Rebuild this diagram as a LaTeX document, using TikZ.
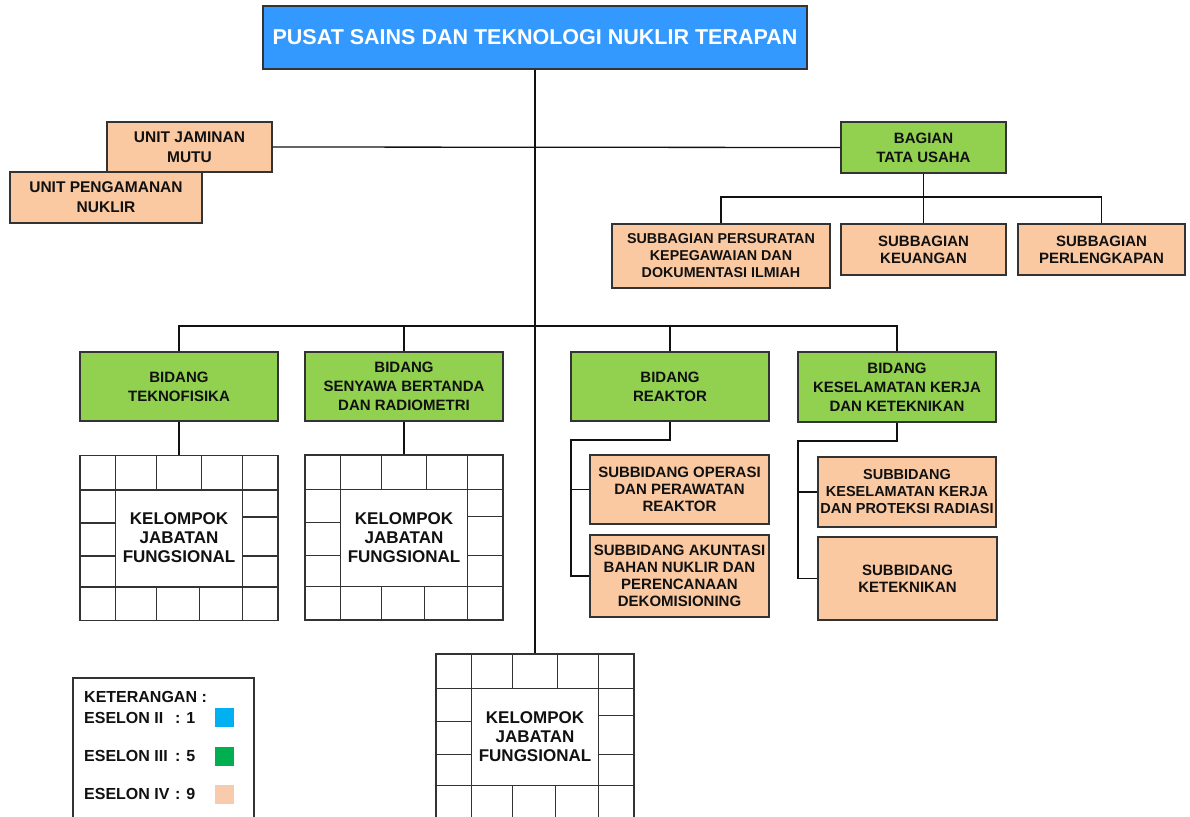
\documentclass[tikz,border=0pt]{standalone}
\usepackage{fontspec}
\setmainfont{Liberation Sans}
\usetikzlibrary{calc}
\definecolor{topblue}{HTML}{3399FF}
\definecolor{bidgreen}{HTML}{92D050}
\definecolor{peach}{HTML}{FAC9A2}
\definecolor{legblue}{HTML}{00B0F0}
\definecolor{leggreen}{HTML}{00B050}
\definecolor{legpeach}{HTML}{F8CBAD}
\definecolor{edge}{HTML}{333333}
\definecolor{ink}{HTML}{111111}
\tikzset{
  box/.style={draw=edge, line width=1.3pt, inner sep=0pt, align=center, text=ink,
    font=\bfseries\fontsize{15}{17}\selectfont},
  peachbox/.style={box, fill=peach},
  greenbox/.style={box, fill=bidgreen, font=\bfseries\fontsize{15}{19}\selectfont},
  gridbox/.style={draw=edge, line width=1.5pt, inner sep=0pt, align=center, text=ink,
    minimum width=198pt, minimum height=165pt, font=\bfseries\fontsize{17}{19}\selectfont},
  gridline/.style={draw=edge, line width=1.5pt},
  conn/.style={draw=ink, line width=1.3pt},
  legtext/.style={anchor=west, inner sep=0pt, text=ink, font=\bfseries\fontsize{16}{18}\selectfont},
  legsq/.style={inner sep=0pt, minimum size=19pt},
}
\newcommand\kjfgrid[1]{%
  \draw[gridline] ($(#1.north west)+(0,35)$) -- ++(198,0);
  \draw[gridline] ($(#1.north west)+(0,132)$) -- ++(198,0);
  \draw[gridline] ($(#1.north west)+(36,0)$) -- ++(0,165);
  \draw[gridline] ($(#1.north west)+(163,0)$) -- ++(0,165);
  \draw[gridline] ($(#1.north west)+(77,0)$) -- ++(0,35);
  \draw[gridline] ($(#1.north west)+(122,0)$) -- ++(0,35);
  \draw[gridline] ($(#1.north west)+(77,132)$) -- ++(0,33);
  \draw[gridline] ($(#1.north west)+(120,132)$) -- ++(0,33);
  \draw[gridline] ($(#1.north west)+(0,68)$) -- ++(36,0);
  \draw[gridline] ($(#1.north west)+(0,101)$) -- ++(36,0);
  \draw[gridline] ($(#1.north west)+(163,62)$) -- ++(35,0);
  \draw[gridline] ($(#1.north west)+(163,101)$) -- ++(35,0);
}
\begin{document}
\begin{tikzpicture}[x=1pt,y=-1pt]
\useasboundingbox[fill=white] (0,0) rectangle (1190,816);
\clip (0,0) rectangle (1190,816);

% top
\node[box, fill=topblue, text=white, minimum width=544pt, minimum height=63pt,
  font=\bfseries\fontsize{21.5}{24}\selectfont] (top) at (535,37.5)
  {PUSAT SAINS DAN TEKNOLOGI NUKLIR TERAPAN};

% units
\node[peachbox, minimum width=165pt, minimum height=50pt, font=\bfseries\fontsize{15.5}{20}\selectfont] (jm) at (189.5,147) {UNIT JAMINAN\\MUTU};
\node[peachbox, minimum width=192pt, minimum height=51pt, font=\bfseries\fontsize{15.5}{20}\selectfont] (pn) at (106,197.5) {UNIT PENGAMANAN\\NUKLIR};

% tata usaha
\node[greenbox, minimum width=165pt, minimum height=51pt] (tu) at (923.5,147.5) {BAGIAN\\TATA USAHA};
\node[peachbox, minimum width=218pt, minimum height=64pt, font=\bfseries\fontsize{14.3}{17}\selectfont] (sb1) at (721,256)
  {SUBBAGIAN PERSURATAN\\KEPEGAWAIAN DAN\\DOKUMENTASI ILMIAH};
\node[peachbox, minimum width=165pt, minimum height=51pt] (sb2) at (923.5,249.5) {SUBBAGIAN\\KEUANGAN};
\node[peachbox, minimum width=167pt, minimum height=51pt] (sb3) at (1101.5,249.5) {SUBBAGIAN\\PERLENGKAPAN};

% bidang
\node[greenbox, minimum width=198pt, minimum height=69pt] (b1) at (179,386.5) {BIDANG\\TEKNOFISIKA};
\node[greenbox, minimum width=198pt, minimum height=69pt] (b2) at (404,386.5) {BIDANG\\SENYAWA BERTANDA\\DAN RADIOMETRI};
\node[greenbox, minimum width=198pt, minimum height=69pt] (b3) at (670,386.5) {BIDANG\\REAKTOR};
\node[greenbox, minimum width=198pt, minimum height=70pt] (b4) at (897,387) {BIDANG\\KESELAMATAN KERJA\\DAN KETEKNIKAN};

% subbidang
\node[peachbox, minimum width=179pt, minimum height=69pt] (sr1) at (679.5,489.5) {SUBBIDANG OPERASI\\DAN PERAWATAN\\REAKTOR};
\node[peachbox, minimum width=179pt, minimum height=82pt] (sr2) at (679.5,576) {SUBBIDANG AKUNTASI\\BAHAN NUKLIR DAN\\PERENCANAAN\\DEKOMISIONING};
\node[peachbox, minimum width=178pt, minimum height=70pt, font=\bfseries\fontsize{14.5}{17}\selectfont] (sk1) at (907,492) {SUBBIDANG\\KESELAMATAN KERJA\\DAN PROTEKSI RADIASI};
\node[peachbox, minimum width=179pt, minimum height=83pt] (sk2) at (907.5,578.5) {SUBBIDANG\\KETEKNIKAN};

% grids
\node[gridbox] (g1) at (179,538) {KELOMPOK\\JABATAN\\FUNGSIONAL};
\node[gridbox] (g2) at (404,537.5) {KELOMPOK\\JABATAN\\FUNGSIONAL};
\node[gridbox] (g3) at (535,736.5) {KELOMPOK\\JABATAN\\FUNGSIONAL};
\kjfgrid{g1}
\kjfgrid{g2}
\kjfgrid{g3}

% connectors
\coordinate (bus) at (535,326);
\coordinate (tubus) at (923.5,197);
\coordinate (r1) at (571,440);
\coordinate (k1) at (798,441);
\draw[conn] (top.south) -- (g3.north);
\draw[conn] (jm.east) -- (tu.west);
\draw[conn] (tu.south) -- (sb2.north);
\draw[conn] (sb1.north) -- (sb1.north |- tubus) -- (sb3.north |- tubus) -- (sb3.north);
\draw[conn] (b1.north) -- (b1.north |- bus) -- (b4.north |- bus) -- (b4.north);
\draw[conn] (b2.north) -- (b2.north |- bus);
\draw[conn] (b3.north) -- (b3.north |- bus);
\draw[conn] (b1.south) -- (g1.north);
\draw[conn] (b2.south) -- (g2.north);
\draw[conn] (b3.south) |- (r1) |- (sr1.west);
\draw[conn] (r1) |- (sr2.west);
\draw[conn] (b4.south) |- (k1) |- (sk1.west);
\draw[conn] (k1) |- (sk2.west);

% legend
\node[draw=edge, line width=1.3pt, minimum width=181pt, minimum height=142pt, inner sep=0pt] (leg) at (163.5,749) {};
\node[legtext] (lt0) at (84,697) {KETERANGAN :};
\node[legtext] (lt1) at (84,718) {\makebox[91pt][l]{ESELON II}: 1};
\node[legtext] (lt2) at (84,756) {\makebox[91pt][l]{ESELON III}: 5};
\node[legtext] (lt3) at (84,794) {\makebox[91pt][l]{ESELON IV}: 9};
\node[legsq, fill=legblue] (sq1) at (224.5,717.5) {};
\node[legsq, fill=leggreen] (sq2) at (224.5,756.5) {};
\node[legsq, fill=legpeach] (sq3) at (224.5,794.5) {};
\end{tikzpicture}
\end{document}
